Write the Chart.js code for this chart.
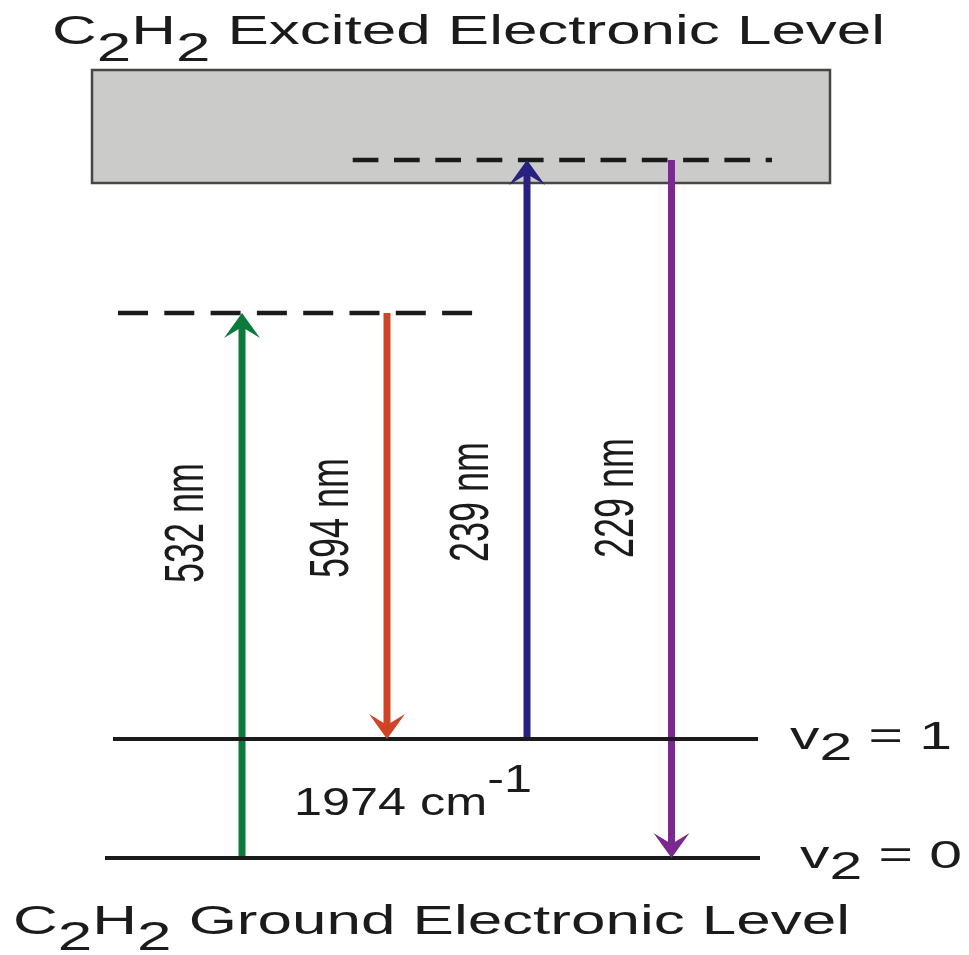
<!DOCTYPE html>
<html>
<head>
<meta charset="utf-8">
<script src="https://cdn.jsdelivr.net/npm/chart.js@4/dist/chart.umd.min.js"></script>
<style>
  html, body { margin: 0; padding: 0; background: #ffffff; }
  #wrap { width: 969px; height: 955px; }
</style>
</head>
<body>
<div id="wrap"><canvas id="diagram" width="969" height="955"></canvas></div>
<script>
// Schematic energy scale (arbitrary units, ground vibrational level v2 = 0 at 0)
const levelQuantum   = ['0', '1'];
const levelEnergies  = [0, 119];
const virtualLevels  = [545, 698];        // Raman virtual level, excited-state virtual level
const excitedBand    = [675, 788];        // C2H2 excited electronic manifold
const wavelengths    = ['532', '594', '239', '229'];
const transFrom      = [0, 545, 119, 698];
const transTo        = [545, 119, 698, 0];
const transColumns   = [242, 387, 527, 671.5];
const spacingValue   = '1974';

// Drawing layout (pixels)
const LAYOUT = {
  levelSpan:   [[105, 760], [113, 758]],
  virtualSpan: [[118, 474], [352.7, 772]],
  virtualDash: [[30, 16.3], [25.7, 15.6]],
  bandSpan:    [92, 830],
  labelCenterY: [523, 518, 502, 498],
  headHalf: 18, headLen: 25, headNotch: 14
};
const COLORS = {
  arrows: ['#0b7a3b', '#cf4427', '#28217f', '#7a2a8e'],
  ink: '#1b1b1b',
  band: '#cbcbc9',
  bandEdge: '#464646'
};
const FONT = '"Liberation Sans", Arial, Helvetica, sans-serif';

// Shafts stop short of the tip so the notched head forms the point
function shaftEnd(i) {
  const dir = Math.sign(transTo[i] - transFrom[i]);
  return transTo[i] - dir * LAYOUT.headNotch;
}

const datasets = [];
virtualLevels.forEach((e, i) => {
  datasets.push({
    data: [{ x: LAYOUT.virtualSpan[i][0], y: e }, { x: LAYOUT.virtualSpan[i][1], y: e }],
    borderColor: COLORS.ink, borderWidth: 4.5, borderDash: LAYOUT.virtualDash[i]
  });
});
levelEnergies.forEach((e, i) => {
  datasets.push({
    data: [{ x: LAYOUT.levelSpan[i][0], y: e }, { x: LAYOUT.levelSpan[i][1], y: e }],
    borderColor: COLORS.ink, borderWidth: 4
  });
});
wavelengths.forEach((w, i) => {
  datasets.push({
    data: [{ x: transColumns[i], y: transFrom[i] }, { x: transColumns[i], y: shaftEnd(i) }],
    borderColor: COLORS.arrows[i], borderWidth: 7
  });
});
datasets.forEach(d => { d.showLine = true; d.pointRadius = 0; d.fill = false; d.borderCapStyle = 'butt'; });

// Text made of runs, each with its own vertical offset (sub/superscripts)
function drawRuns(ctx, runs, x, baseline, size, width) {
  ctx.save();
  ctx.font = size + 'px ' + FONT;
  ctx.fillStyle = COLORS.ink;
  ctx.textBaseline = 'alphabetic';
  ctx.textAlign = 'left';
  const natural = runs.reduce((s, r) => s + ctx.measureText(r[0]).width, 0);
  ctx.translate(x, baseline);
  ctx.scale(width / natural, 1);
  let cx = 0;
  for (const [t, dy] of runs) {
    ctx.fillText(t, cx, dy);
    cx += ctx.measureText(t).width;
  }
  ctx.restore();
}

const diagramPlugin = {
  id: 'levelDiagram',
  beforeDatasetsDraw(chart) {
    const { ctx, scales: { x, y } } = chart;
    const x0 = x.getPixelForValue(LAYOUT.bandSpan[0]);
    const x1 = x.getPixelForValue(LAYOUT.bandSpan[1]);
    const yTop = y.getPixelForValue(excitedBand[1]);
    const yBot = y.getPixelForValue(excitedBand[0]);
    ctx.save();
    ctx.fillStyle = COLORS.band;
    ctx.fillRect(x0, yTop, x1 - x0, yBot - yTop);
    ctx.strokeStyle = COLORS.bandEdge;
    ctx.lineWidth = 2.5;
    ctx.strokeRect(x0, yTop, x1 - x0, yBot - yTop);
    ctx.restore();
  },
  afterDatasetsDraw(chart) {
    const { ctx, scales: { x, y } } = chart;
    // arrowheads
    wavelengths.forEach((w, i) => {
      const px = x.getPixelForValue(transColumns[i]);
      const tip = y.getPixelForValue(transTo[i]);
      const s = transTo[i] > transFrom[i] ? 1 : -1; // 1: pointing up
      const { headHalf: h, headLen: l, headNotch: n } = LAYOUT;
      ctx.save();
      ctx.fillStyle = COLORS.arrows[i];
      ctx.beginPath();
      ctx.moveTo(px, tip);
      ctx.lineTo(px - h, tip + s * l);
      ctx.lineTo(px, tip + s * n);
      ctx.lineTo(px + h, tip + s * l);
      ctx.closePath();
      ctx.fill();
      ctx.restore();
    });

    // wavelength labels, rotated, left of each arrow
    wavelengths.forEach((w, i) => {
      const base = x.getPixelForValue(transColumns[i]) - 39;
      ctx.save();
      ctx.font = '36px ' + FONT;
      ctx.fillStyle = COLORS.ink;
      ctx.textAlign = 'center';
      ctx.textBaseline = 'alphabetic';
      ctx.translate(base, LAYOUT.labelCenterY[i]);
      ctx.rotate(-Math.PI / 2);
      ctx.scale(1, 1.52);
      ctx.fillText(w + ' nm', 0, 0);
      ctx.restore();
    });

    // vibrational level labels
    levelEnergies.forEach((e, i) => {
      const base = y.getPixelForValue(e) + 10;
      const start = i === 0 ? 800 : 790;
      drawRuns(ctx, [['v', 0], ['2', 11], [' = ' + levelQuantum[i], 0]], start, base, 39, 162);
    });

    // spacing between v2 = 0 and v2 = 1
    const mid = y.getPixelForValue(levelEnergies[0]) - 43;
    drawRuns(ctx, [[spacingValue + ' cm', 0], ['-1', -23]], 294, mid, 38, 238);

    // electronic state titles
    const topBase = y.getPixelForValue(excitedBand[1]) - 26;
    drawRuns(ctx, [['C', 0], ['2', 17], ['H', 0], ['2', 17], [' Excited Electronic Level', 0]], 52, topBase, 40, 833);
    const botBase = y.getPixelForValue(levelEnergies[0]) + 76;
    drawRuns(ctx, [['C', 0], ['2', 16], ['H', 0], ['2', 16], [' Ground Electronic Level', 0]], 13, botBase, 40, 837);
  }
};

new Chart(document.getElementById('diagram'), {
  type: 'scatter',
  data: { datasets },
  options: {
    responsive: false,
    animation: false,
    layout: { padding: 0 },
    plugins: { legend: { display: false }, tooltip: { enabled: false }, title: { display: false } },
    elements: { line: { tension: 0 } },
    scales: {
      x: { type: 'linear', display: false, min: 0, max: 969 },
      y: { type: 'linear', display: false, min: -97, max: 858 }
    }
  },
  plugins: [diagramPlugin]
});
</script>
</body>
</html>
